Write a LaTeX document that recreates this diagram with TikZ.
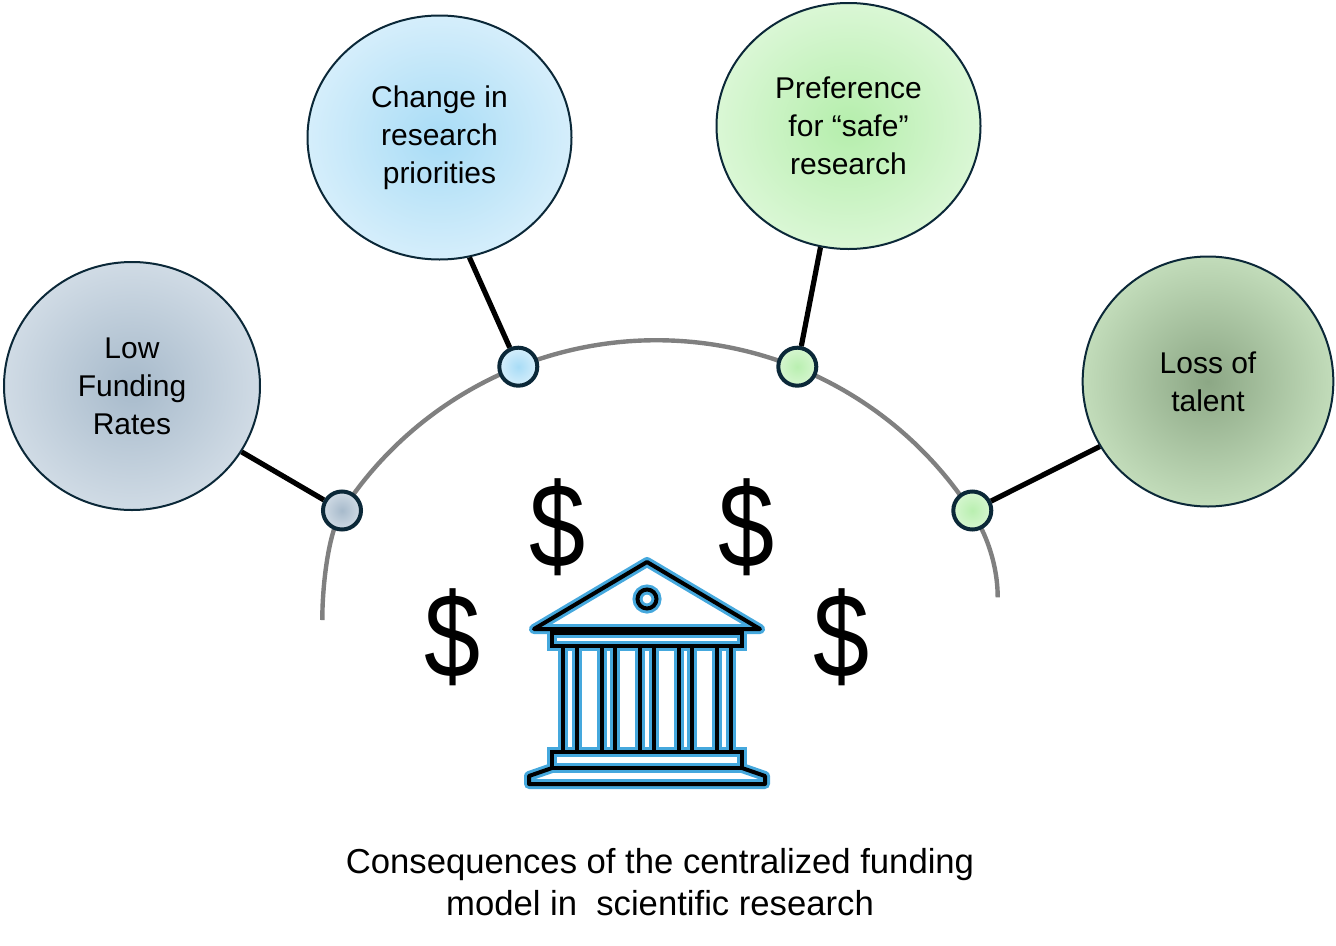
\documentclass[tikz,border=0pt]{standalone}
\usepackage{fontspec}
\setmainfont{Liberation Sans}
\usepackage{xcolor}
\usepackage{graphicx}
\usetikzlibrary{
    shapes.geometric,
    positioning
}
\definecolor{rim}{HTML}{0B2838}
\definecolor{arcgray}{HTML}{808080}
\definecolor{iconblue}{HTML}{45A8DD}
\definecolor{lowin}{HTML}{A7BACB}
\definecolor{lowout}{HTML}{D0DBE5}
\definecolor{chgin}{HTML}{A8DCF6}
\definecolor{chgout}{HTML}{D5EEFB}
\definecolor{prefin}{HTML}{B5EEAC}
\definecolor{prefout}{HTML}{DAF7D5}
\definecolor{lossin}{HTML}{8CA785}
\definecolor{lossout}{HTML}{C2DCBA}
\definecolor{dotgreen}{HTML}{B9EFB0}
\definecolor{dotgreenout}{HTML}{D6F6D0}

\begin{document}
\begin{tikzpicture}[x=0.75pt, y=-0.75pt,
        bubble/.style={ellipse, draw=rim, line width=1.5pt, inner sep=0pt, align=center,
            font=\fontsize{22.5}{28.5}\selectfont},
        dot/.style={circle, draw=rim, line width=3pt, minimum size=28.5pt, inner sep=0pt},
        conn/.style={line width=3.9pt, draw=black},
        money/.style={font=\fontsize{90}{90}\selectfont, inner sep=0pt}]

                        \useasboundingbox (0, 0) rectangle (1336, 946);

                        % arc
                        \draw[arcgray, line width=3.3pt] (322.3, 620) .. controls (322.3, 585) and (328.4, 532) .. (342, 511)
                        arc[start angle=-147, end angle=-33, radius=375]
                        .. controls (986.1, 532) and (997.7, 565) .. (997.7, 597.3);

                        \node[bubble, minimum width=192pt, minimum height=186pt, inner color=lowin, outer color=lowout] (low) at (132, 386) {Low\\Funding\\Rates};
                        \node[bubble, minimum width=198pt, minimum height=183pt, inner color=chgin, outer color=chgout] (chg) at (439.5, 137.5) {Change in\\research\\priorities};
                        \node[bubble, minimum width=198pt, minimum height=184.5pt, inner color=prefin, outer color=prefout] (pref) at (848.5, 126) {Preference\\for “safe”\\research};
                        \node[bubble, minimum width=188pt, minimum height=187.5pt, inner color=lossin, outer color=lossout] (loss) at (1208, 381.5) {Loss of\\talent};

                        \node[dot, inner color=lowin, outer color=lowout] (dotlow) at (342, 510.5) {};
                        \node[dot, inner color=chgin, outer color=chgout] (dotchg) at (518.3, 366.7) {};
                        \node[dot, inner color=dotgreen, outer color=dotgreenout] (dotpref) at (797.3, 366.7) {};
                        \node[dot, inner color=dotgreen, outer color=dotgreenout] (dotloss) at (972.3, 510.5) {};

                        \draw
                        (low.-31) edge[conn] (dotlow)
                        (chg.-76) edge[conn] (dotchg)
                        (pref.-103) edge[conn] (dotpref)
                        (loss.211) edge[conn] (dotloss);

                        % dollar signs
                        \node[money] (usd1) at (558, 527) {\scalebox{0.84}[1]{\$}};
                        \node[money] (usd2) at (747, 527) {\scalebox{0.84}[1]{\$}};
                        \node[money] (usd3) at (453, 637) {\scalebox{0.84}[1]{\$}};
                        \node[money] (usd4) at (842, 637) {\scalebox{0.84}[1]{\$}};

                        % bank building, blue halo first then black
                        \foreach \w/\c in {7.5pt/iconblue, 3pt/black} {
                            \draw[line width=\w, draw=\c, line join=round] (647, 562) -- (760, 629) -- (534, 629) -- cycle;
                            \draw[line width=\w, draw=\c] (647, 599) circle[radius=9.5];
                            \draw[line width=\w, draw=\c] (552, 632.5) rectangle (742, 646);
                            \foreach \i in {0, ..., 4} {
                                \draw[line width=\w, draw=\c] ({563 + 38.5*\i}, 646) -- ++(0, 106)
                                ({576.5 + 38.5*\i}, 646) -- ++(0, 106);
                            }
                            \draw[line width=\w, draw=\c] (552, 752) rectangle (742, 768);
                            \draw[line width=\w, draw=\c, line join=round] (552, 768) -- (529, 776) -- (529, 784) -- (765, 784) -- (765, 776) -- (742, 768);
                        }

                        \node[font=\fontsize{26}{31.5}\selectfont, align=center] (caption) at (660, 882) {Consequences of the centralized funding\\model in~ scientific research};
                    \end{tikzpicture}
\end{document}
